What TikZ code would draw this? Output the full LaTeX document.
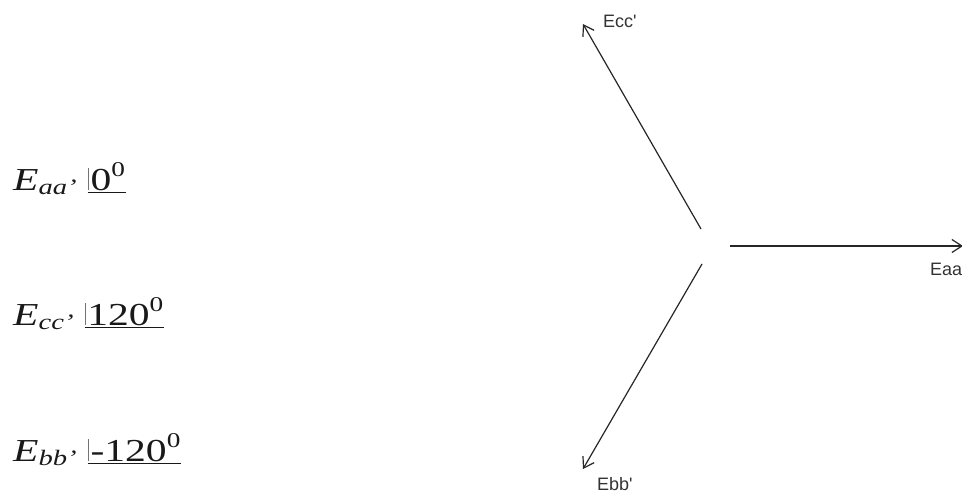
\documentclass[tikz,border=0pt]{standalone}
\usepackage{fontspec}
\setmainfont{Liberation Serif}
\newfontfamily\eqfont{Liberation Serif}[FakeStretch=1.3]
\newfontfamily\lblfont{Liberation Sans}
\usetikzlibrary{arrows.meta}
\newcommand\phasorang[1]{\underline{\textcolor{black!55}{\vrule width 1.3pt height 22pt depth 0pt}\hspace{1.5pt}#1\hspace{1pt}}}
\newcommand\subsc[1]{\raisebox{-4pt}{\fontsize{22}{22}\selectfont\itshape #1}}
\newcommand\supsc[1]{\raisebox{14pt}{\fontsize{21}{21}\selectfont #1}}
\tikzset{
  vec/.style={line width=1.2pt, draw=black!85, -{Straight Barb[length=10pt,width=13pt,line width=1.2pt]}},
  lbl/.style={font=\lblfont\fontsize{18}{20}\selectfont, text=black!80, inner sep=0pt, anchor=base west},
  eq/.style={font=\eqfont\fontsize{32}{38}\selectfont, anchor=base west, inner sep=0pt, text=black!90}
}
\begin{document}
\begin{tikzpicture}[x=1pt,y=-1pt]
\useasboundingbox (0,0) rectangle (962,495);
% phasor equations
\node[eq] (eqa) at (13,190) {\textit{E}\subsc{aa’}\hspace{11pt}\phasorang{0\supsc{0}}};
\node[eq] (eqc) at (13,325) {\textit{E}\subsc{cc’}\hspace{11pt}\phasorang{120\supsc{0}}};
\node[eq] (eqb) at (13,461) {\textit{E}\subsc{bb’}\hspace{11pt}\phasorang{-120\supsc{0}}};
% phasor diagram
\coordinate (aS) at (730,246);
\coordinate (aE) at (963,246);
\coordinate (cS) at (701,229);
\coordinate (cE) at (583,24);
\coordinate (bS) at (702,264);
\coordinate (bE) at (583,469);
\draw[vec] (aS) -- (aE);
\draw[vec] (cS) -- (cE);
\draw[vec] (bS) -- (bE);
\node[lbl] (la) at (930,275) {Eaa'};
\node[lbl] (lc) at (603,28) {Ecc'};
\node[lbl] (lb) at (597,490) {Ebb'};
\end{tikzpicture}
\end{document}
